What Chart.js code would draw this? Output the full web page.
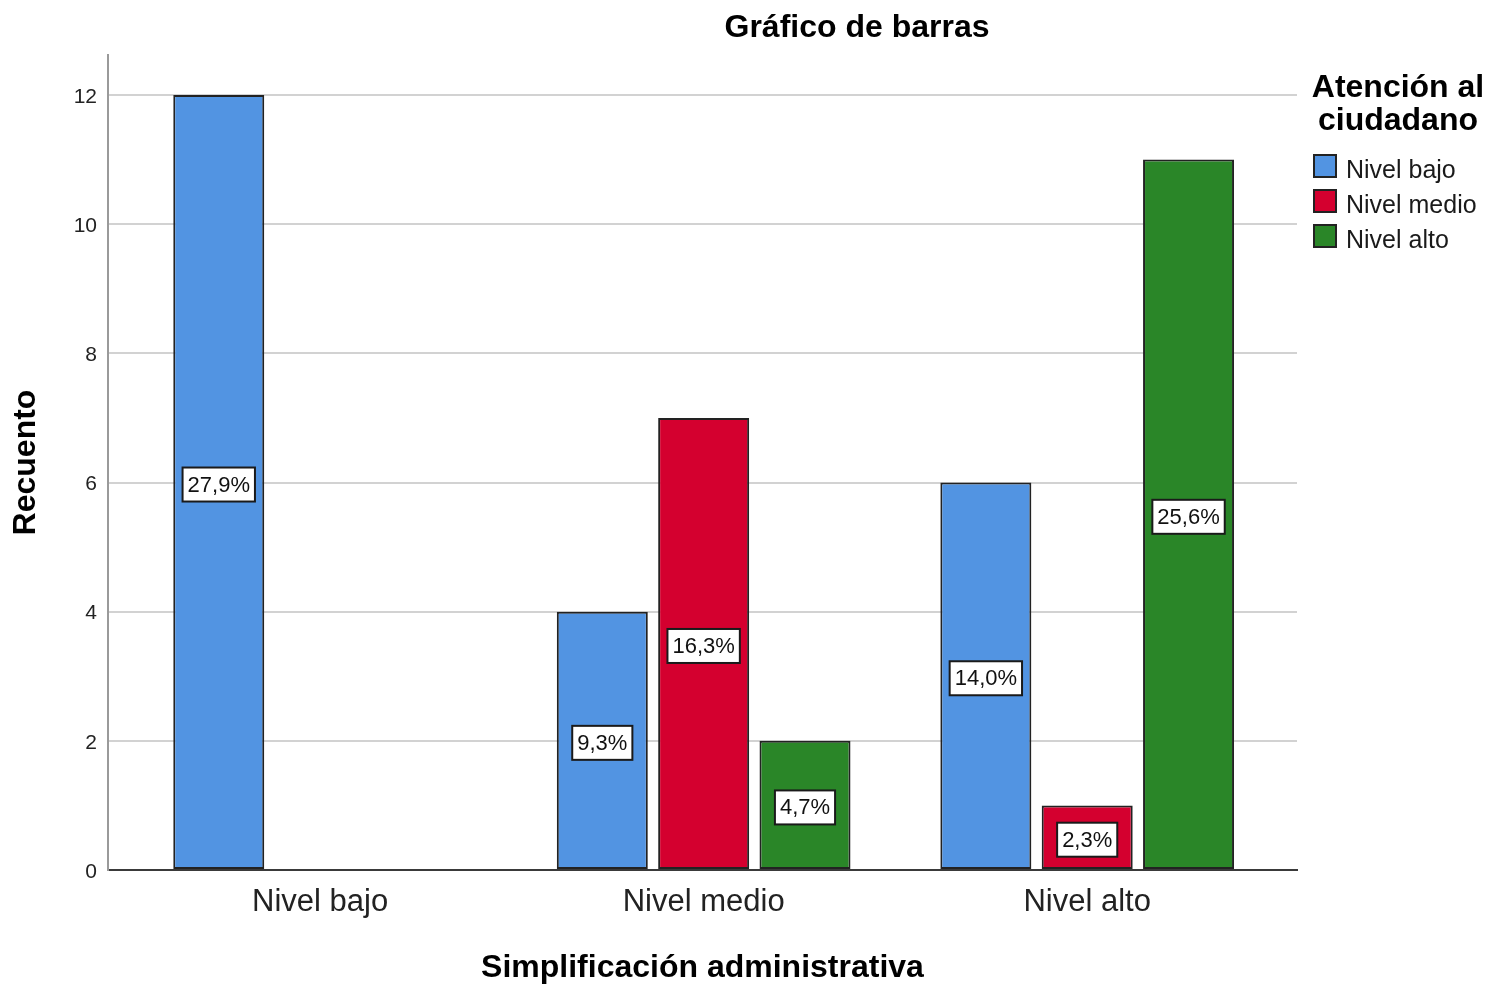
<!DOCTYPE html>
<html>
<head>
<meta charset="utf-8">
<script src="https://cdn.jsdelivr.net/npm/chart.js@4.4.1/dist/chart.umd.min.js"></script>
<style>
  html, body { margin: 0; padding: 0; background: #ffffff; }
  canvas { display: block; }
</style>
</head>
<body>
<canvas id="chart" width="1491" height="987"></canvas>
<script>
// Texts
const chartTitle = 'Gráfico de barras';
const xAxisTitle = 'Simplificación administrativa';
const yAxisTitle = 'Recuento';
const legendTitle = ['Atención al', 'ciudadano'];

// Categories on the x axis and legend series
const categories = ['Nivel bajo', 'Nivel medio', 'Nivel alto'];
const seriesNames = ['Nivel bajo', 'Nivel medio', 'Nivel alto'];

// Counts per category (null = no bar)
const countsBajo = [12, 4, 6];
const countsMedio = [null, 7, 1];
const countsAlto = [null, 2, 11];

// Y axis tick values
const yTicks = [0, 2, 4, 6, 8, 10, 12];

const FONT = "'Liberation Sans', Arial, sans-serif";
const total = [...countsBajo, ...countsMedio, ...countsAlto]
  .reduce((s, v) => s + (v == null ? 0 : v), 0);

const toPoints = arr => arr.map((v, i) => ({ x: i, y: v }));
const pctLabel = v => (v / total * 100).toFixed(1).replace('.', ',') + '%';

// White boxed percentage labels in the middle of each bar
const valueBoxes = {
  id: 'valueBoxes',
  afterDatasetsDraw(chart) {
    const ctx = chart.ctx;
    ctx.save();
    ctx.font = `22px ${FONT}`;
    ctx.textAlign = 'center';
    ctx.textBaseline = 'middle';
    chart.data.datasets.forEach((ds, di) => {
      const meta = chart.getDatasetMeta(di);
      meta.data.forEach((bar, i) => {
        const v = ds.data[i].y;
        if (v == null) return;
        const text = pctLabel(v);
        const cx = bar.x;
        const cy = (bar.y + bar.base) / 2 + 2.5;
        const w = ctx.measureText(text).width + 10;
        const h = 34;
        ctx.fillStyle = '#ffffff';
        ctx.fillRect(cx - w / 2, cy - h / 2, w, h);
        ctx.lineWidth = 2;
        ctx.strokeStyle = '#1a1a1a';
        ctx.strokeRect(cx - w / 2, cy - h / 2, w, h);
        ctx.fillStyle = '#111111';
        ctx.fillText(text, cx, cy + 1);
      });
    });
    ctx.restore();
  }
};

// Chart title and the legend block on the right
const decorations = {
  id: 'decorations',
  afterDraw(chart) {
    const ctx = chart.ctx;
    ctx.save();
    ctx.fillStyle = '#000000';
    ctx.font = `bold 32px ${FONT}`;
    ctx.textAlign = 'center';
    ctx.textBaseline = 'middle';
    ctx.fillText(chartTitle, 857, 28);

    ctx.font = `bold 32px ${FONT}`;
    ctx.textBaseline = 'alphabetic';
    legendTitle.forEach((line, i) => ctx.fillText(line, 1398, 97 + i * 33));

    ctx.textAlign = 'left';
    ctx.textBaseline = 'middle';
    ctx.font = `25px ${FONT}`;
    chart.data.datasets.forEach((ds, i) => {
      const y = 154 + i * 35;
      ctx.fillStyle = ds.backgroundColor;
      ctx.fillRect(1313, y, 24, 24);
      ctx.lineWidth = 2;
      ctx.strokeStyle = '#222222';
      ctx.strokeRect(1314, y + 1, 22, 22);
      ctx.fillStyle = '#1a1a1a';
      ctx.fillText(seriesNames[i], 1346, y + 17);
    });
    ctx.restore();
  }
};

const barStyle = { borderColor: '#222222', borderWidth: 2, borderSkipped: false,
                   categoryPercentage: 0.7927, barPercentage: 0.898 };

new Chart(document.getElementById('chart'), {
  type: 'bar',
  data: {
    datasets: [
      Object.assign({ label: seriesNames[0], data: toPoints(countsBajo), backgroundColor: '#5294E2' }, barStyle),
      Object.assign({ label: seriesNames[1], data: toPoints(countsMedio), backgroundColor: '#D4002F' }, barStyle),
      Object.assign({ label: seriesNames[2], data: toPoints(countsAlto), backgroundColor: '#2A8628' }, barStyle)
    ]
  },
  options: {
    responsive: false,
    devicePixelRatio: 1,
    animation: false,
    layout: { padding: { top: 55, right: 194, bottom: 0, left: 0 } },
    plugins: {
      legend: { display: false },
      title: { display: false },
      tooltip: { enabled: false }
    },
    scales: {
      x: {
        type: 'linear',
        offset: false,
        min: -0.553,
        max: 2.547,
        afterBuildTicks: s => { s.ticks = categories.map((_, i) => ({ value: i })); },
        afterFit: s => { s.height = 117; },
        grid: { display: false, drawTicks: false, offset: false },
        border: { display: true, color: '#3a3a3a', width: 2 },
        ticks: {
          callback: v => categories[v] ?? '',
          font: { family: FONT, size: 31 },
          color: '#222222',
          padding: 14,
          maxRotation: 0
        },
        title: {
          display: true,
          text: xAxisTitle,
          font: { family: FONT, size: 32, weight: 'bold', lineHeight: 1.1 },
          color: '#000000',
          padding: { top: 0, bottom: 1 }
        }
      },
      y: {
        min: 0,
        max: 12.62,
        afterBuildTicks: s => { s.ticks = yTicks.map(v => ({ value: v })); },
        afterFit: s => { s.width = 108; },
        grid: { color: '#d2d2d2', lineWidth: 2, drawTicks: false },
        border: { display: true, color: '#9a9a9a', width: 2 },
        ticks: {
          font: { family: FONT, size: 21 },
          color: '#222222',
          padding: 11,
          labelOffset: 2
        },
        title: {
          display: true,
          text: yAxisTitle,
          font: { family: FONT, size: 32, weight: 'bold' },
          color: '#000000',
          padding: { top: 7, bottom: 0 }
        }
      }
    }
  },
  plugins: [valueBoxes, decorations]
});
</script>
</body>
</html>
